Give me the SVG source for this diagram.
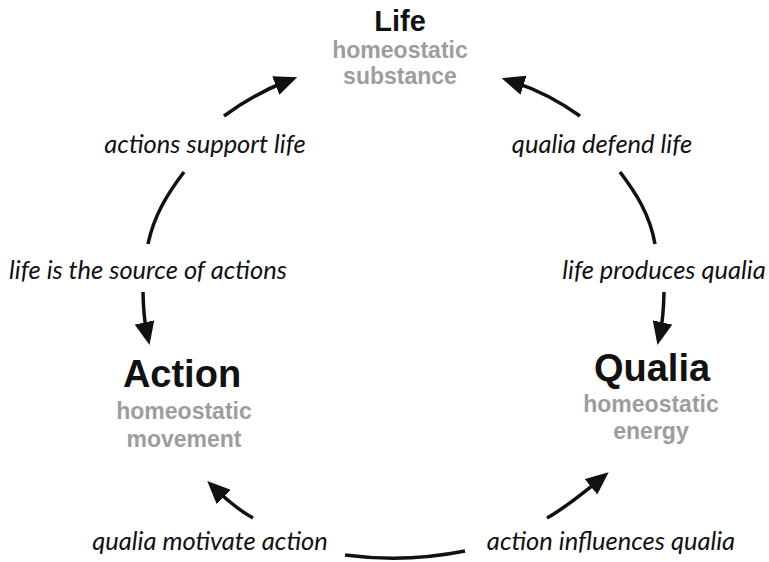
<svg xmlns="http://www.w3.org/2000/svg" width="769" height="562" viewBox="0 0 769 562">
  <defs>
    <marker id="ah" markerUnits="userSpaceOnUse" viewBox="0 0 23 20" markerWidth="23" markerHeight="20" refX="11" refY="10" orient="auto">
      <path d="M0,0 L23,10 L0,20 z" fill="#111"/>
    </marker>
    <style>
      .title { font-family: "Liberation Sans", Arial, sans-serif; font-weight: bold; fill: #111; text-anchor: middle; }
      .sub { font-family: "Liberation Sans", Arial, sans-serif; font-weight: bold; fill: #9d9d9d; font-size: 23px; text-anchor: middle; }
      .lbl { font-family: Lato, "Open Sans", "Liberation Sans", sans-serif; font-style: italic; fill: #111; font-size: 25.5px; text-anchor: middle; }
      .c { fill: none; stroke: #111; stroke-width: 3.5; }
      .a { marker-end: url(#ah); }
    </style>
  </defs>
  <rect width="769" height="562" fill="#fff"/>

  <g id="connectors">
    <path class="c a" d="M224,116 Q254,94 286,81.5"/>
    <path class="c" d="M184,172 C168,193 154,215 148,244"/>
    <path class="c a" d="M143,292 Q143.5,318 146.9,333.2"/>
    <path class="c a" d="M580,116 Q548,93 513.1,81.8"/>
    <path class="c" d="M620,172 C636,193 650,215 655,244"/>
    <path class="c a" d="M664,292 Q663.5,318 660.1,333.2"/>
    <path class="c a" d="M253,518 Q235,508 215.8,489.3"/>
    <path class="c a" d="M547,518 Q565,508 599.4,479.8"/>
    <path class="c" d="M345,555 Q405,563 465,551"/>
  </g>

  <g id="life">
    <text class="title" x="400" y="31" font-size="29">Life</text>
    <text class="sub" x="400" y="58">homeostatic</text>
    <text class="sub" x="400" y="84">substance</text>
  </g>
  <g id="action">
    <text class="title" x="182" y="387" font-size="38">Action</text>
    <text class="sub" x="184" y="419">homeostatic</text>
    <text class="sub" x="184" y="447">movement</text>
  </g>
  <g id="qualia">
    <text class="title" x="652" y="381" font-size="38">Qualia</text>
    <text class="sub" x="651" y="412">homeostatic</text>
    <text class="sub" x="651" y="439">energy</text>
  </g>

  <g id="labels">
    <text class="lbl" x="205" y="153">actions support life</text>
    <text class="lbl" x="602" y="153">qualia defend life</text>
    <text class="lbl" x="148" y="279">life is the source of actions</text>
    <text class="lbl" x="664" y="279">life produces qualia</text>
    <text class="lbl" x="210" y="550">qualia motivate action</text>
    <text class="lbl" x="611" y="550">action influences qualia</text>
  </g>
</svg>
